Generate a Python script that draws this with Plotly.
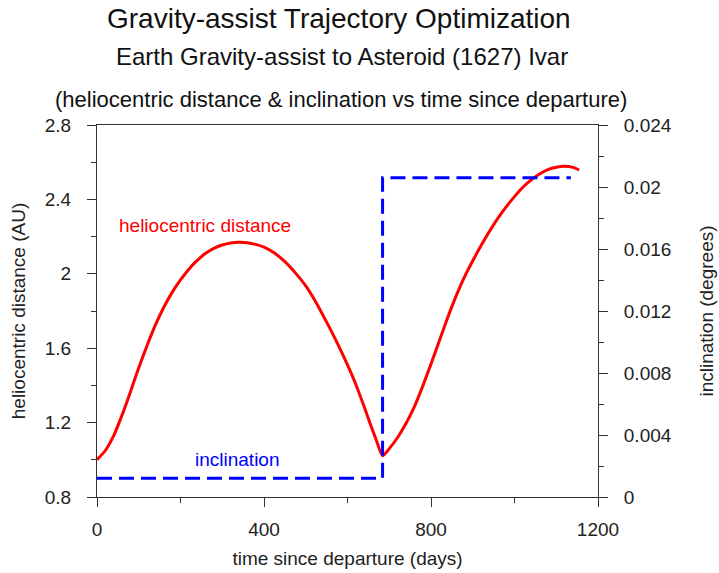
import plotly.graph_objects as go

# Data
days = [0, 20, 40, 60, 80, 100, 120, 140, 160, 180, 200, 220, 240, 260, 280, 300, 320, 340,
        360, 380, 400, 425, 450, 475, 500, 525, 550, 575, 600, 620, 640, 655, 670, 684,
        700, 720, 740, 760, 780, 800, 820, 840, 860, 880, 900, 920, 940, 960, 980, 1000,
        1020, 1040, 1060, 1080, 1100, 1120, 1140, 1155]
distance_au = [1.00, 1.05, 1.13, 1.24, 1.365, 1.495, 1.615, 1.725, 1.82, 1.90, 1.967, 2.025,
               2.072, 2.11, 2.137, 2.155, 2.166, 2.17, 2.167, 2.158, 2.143, 2.112, 2.065, 2.005,
               1.935, 1.845, 1.74, 1.63, 1.51, 1.405, 1.285, 1.19, 1.10, 1.022,
               1.06, 1.12, 1.195, 1.285, 1.395, 1.515, 1.64, 1.765, 1.88, 1.982, 2.07, 2.152,
               2.228, 2.298, 2.36, 2.415, 2.465, 2.505, 2.537, 2.56, 2.573, 2.578, 2.572, 2.558]
incl_days = [0, 684, 1135]
inclination_deg = [0.00121, 0.0206, 0.0206]

font = "Liberation Sans, Arial, sans-serif"
ink = "#222222"

fig = go.Figure()
fig.add_trace(go.Scatter(x=days, y=distance_au, mode="lines",
                         line=dict(color="#ff0000", width=3, shape="spline", smoothing=0.6),
                         showlegend=False, hoverinfo="skip"))
fig.add_trace(go.Scatter(x=incl_days, y=inclination_deg, mode="lines", yaxis="y2",
                         line=dict(color="#0000ff", width=3, shape="hv", dash="15px,7px"),
                         showlegend=False, hoverinfo="skip"))

axis_common = dict(showline=True, linecolor="#333333", linewidth=1, ticks="outside",
                   tickcolor="#333333", ticklen=9, tickwidth=1, showgrid=False, zeroline=False,
                   automargin=False,
                   tickfont=dict(family=font, size=19, color=ink))

fig.update_layout(
    width=719, height=573,
    margin=dict(l=97, r=121, t=125, b=76),
    paper_bgcolor="white", plot_bgcolor="white",
    font=dict(family=font, color=ink),
    xaxis=dict(range=[0, 1200], dtick=400, tick0=0, mirror=True, ticklabelstandoff=6,
               minor=dict(dtick=200, ticks="outside", ticklen=5, tickcolor="#333333"),
               title=dict(text="time since departure (days)", font=dict(family=font, size=19),
                          standoff=12),
               **axis_common),
    yaxis=dict(range=[0.8, 2.8], dtick=0.4, tick0=0.8, ticklabelstandoff=12,
               minor=dict(dtick=0.2, ticks="outside", ticklen=5, tickcolor="#333333"),
               title=dict(text="heliocentric distance (AU)", font=dict(family=font, size=19),
                          standoff=14),
               **axis_common),
    yaxis2=dict(range=[0, 0.024], dtick=0.004, tick0=0, overlaying="y", side="right",
                ticklabelstandoff=12,
                minor=dict(dtick=0.002, ticks="outside", ticklen=5, tickcolor="#333333"),
                title=dict(text="inclination (degrees)", font=dict(family=font, size=19),
                           standoff=28),
                **axis_common),
)

annos = [
    dict(text="Gravity-assist Trajectory Optimization", x=339, y=18, size=28),
    dict(text="Earth Gravity-assist to Asteroid (1627) Ivar", x=342, y=57, size=24),
    dict(text="(heliocentric distance & inclination vs time since departure)", x=341, y=99, size=22),
]
for a in annos:
    fig.add_annotation(text=a["text"], xref="paper", yref="paper",
                       x=(a["x"] - 97) / (719 - 97 - 121), y=(573 - 76 - a["y"]) / (573 - 125 - 76),
                       showarrow=False, xanchor="center", yanchor="middle",
                       font=dict(family=font, size=a["size"], color="#111111"))

fig.add_annotation(text="heliocentric distance", x=258, y=2.26, xref="x", yref="y",
                   showarrow=False, font=dict(family=font, size=19, color="#ff0000"))
fig.add_annotation(text="inclination", x=336, y=0.0024, xref="x", yref="y2",
                   showarrow=False, font=dict(family=font, size=19, color="#0000ff"))

fig.write_html("out.html")
